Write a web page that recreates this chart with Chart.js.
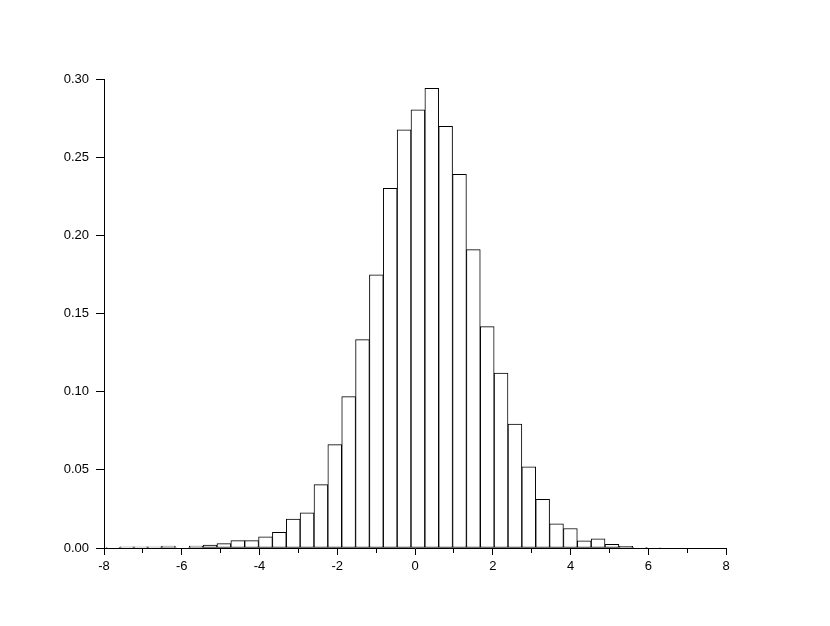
<!DOCTYPE html>
<html>
<head>
<meta charset="utf-8">
<script src="https://cdn.jsdelivr.net/npm/chart.js@4/dist/chart.umd.min.js"></script>
<style>
  html, body { margin: 0; padding: 0; background: #fff; }
  #wrap { width: 830px; height: 626px; }
</style>
</head>
<body>
<div id="wrap"><canvas id="hist" width="830" height="626"></canvas></div>
<script>
// bin centres (width ~0.3565)
const binCenters = [-7.768, -7.411, -7.055, -6.698, -6.342, -5.985, -5.629, -5.272, -4.916, -4.559,
  -4.203, -3.846, -3.490, -3.133, -2.777, -2.420, -2.064, -1.707, -1.351, -0.994,
  -0.638, -0.281, 0.075, 0.432, 0.788, 1.145, 1.501, 1.858, 2.214, 2.571,
  2.927, 3.284, 3.640, 3.997, 4.353, 4.710, 5.066, 5.423, 5.779, 6.136];
const density = [0.0005, 0.0008, 0.0008, 0.0008, 0.0012, 0.0003, 0.0012, 0.0018, 0.0028, 0.0047,
  0.0047, 0.0072, 0.0100, 0.0185, 0.0225, 0.0405, 0.0661, 0.0968, 0.1333, 0.1747,
  0.2300, 0.2675, 0.2803, 0.2940, 0.2697, 0.2390, 0.1909, 0.1416, 0.1119, 0.0793,
  0.0520, 0.0311, 0.0155, 0.0125, 0.0046, 0.0059, 0.0024, 0.0010, 0.0005, 0.0003];
const xMin = -8, xMax = 8;
const yMax = 0.30, yStep = 0.05;

const pts = binCenters.map((x, i) => ({ x: x, y: density[i] }));
const font = { family: '"Liberation Sans", Arial, sans-serif', size: 13 };

new Chart(document.getElementById('hist').getContext('2d'), {
  type: 'bar',
  data: {
    datasets: [{
      data: pts,
      backgroundColor: '#ffffff',
      borderColor: '#000000',
      borderWidth: 1,
      borderSkipped: false,
      barPercentage: 1,
      categoryPercentage: 1
    }]
  },
  options: {
    responsive: false,
    animation: false,
    layout: { padding: { top: 79, right: 104, left: 0, bottom: 0 } },
    plugins: { legend: { display: false }, tooltip: { enabled: false } },
    scales: {
      x: {
        type: 'linear',
        min: xMin, max: xMax,
        offset: false,
        afterFit: s => { s.height = 78; },
        grid: {
          offset: false,
          drawOnChartArea: false,
          tickLength: 7,
          tickColor: '#000',
          // odd values get a short tick
          tickBorderDash: c => (c.tick && Math.abs(c.tick.value) % 2 === 1) ? [4, 40] : []
        },
        border: { display: true, color: '#000', width: 1 },
        ticks: {
          stepSize: 1,
          autoSkip: false,
          maxRotation: 0,
          color: '#000',
          font: font,
          padding: 4,
          callback: v => (Math.abs(v) % 2 === 0) ? String(v) : ''
        }
      },
      y: {
        min: 0, max: yMax,
        afterFit: s => { s.width = 104; },
        grid: { drawOnChartArea: false, tickLength: 8, tickColor: '#000' },
        border: { display: true, color: '#000', width: 1 },
        ticks: {
          stepSize: yStep,
          color: '#000',
          font: font,
          padding: 7,
          callback: v => v.toFixed(2)
        }
      }
    }
  }
});
</script>
</body>
</html>
